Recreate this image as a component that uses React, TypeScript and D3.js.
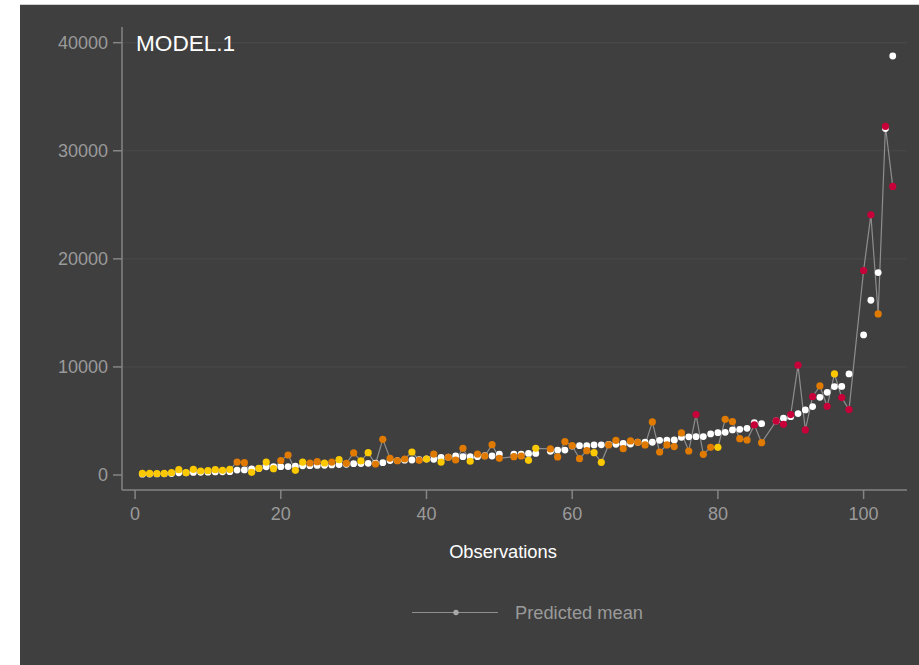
import React, { useEffect, useRef } from "react";
import * as d3 from "d3";

// observation number 1..104 (51, 56, 87, 99 have no data)
const observationIds = d3.range(1, 105);

const predictedMean = [
  80, 90, 100, 110, 130, 210, 200, 240, 250, 260,
  280, 290, 310, 460, 470, 560, 600, 760, 770, 770,
  780, 830, 850, 860, 890, 900, 930, 960, 990, 1050,
  1060, 1080, 1100, 1140, 1340, 1330, 1370, 1390, 1420, 1480,
  1450, 1640, 1650, 1760, 1700, 1700, 1700, 1780, 1760, 1940,
  null, 1940, 1940, 2000, 2000, null, 2190, 2310, 2310, 2680,
  2710, 2710, 2780, 2790, 2820, 2840, 2930, 2870, 3030, 3030,
  3030, 3210, 3230, 3240, 3490, 3530, 3550, 3560, 3800, 3920,
  3950, 4170, 4230, 4320, 4840, 4750, null, 5000, 5250, 5400,
  5680, 6020, 6330, 7190, 7650, 8180, 8200, 9350, null, 12960,
  16170, 18730, 32060, 38770,
];

const observedValue = [
  150, 150, 140, 150, 215, 490, 215, 525, 370, 400,
  490, 430, 525, 1200, 1140, 250, 620, 1200, 585, 1340,
  1850, 430, 1200, 1110, 1230, 1110, 1200, 1420, 1080, 2040,
  1300, 2070, 1020, 3300, 1540, 1320, 1480, 2130, 1360, 1480,
  1940, 1200, 1640, 1390, 2470, 1270, 1940, 1760, 2810, 1540,
  null, 1700, 1760, 1360, 2470, null, 2410, 1670, 3080, 2710,
  1510, 2250, 2070, 1170, 2780, 3210, 2440, 3150, 3030, 2780,
  4910, 2130, 2780, 2630, 3890, 2220, 5590, 1910, 2560, 2560,
  5150, 4940, 3360, 3240, 4630, 2990, null, 5000, 4690, 5590,
  10160, 4170, 7250, 8240, 6360, 9350, 7160, 6050, null, 18920,
  24070, 14900, 32250, 26700,
];

// Y = low, O = mid, R = high band of each observation
const observedBand = [
  "Y", "Y", "Y", "Y", "Y", "Y", "Y", "Y", "Y", "Y",
  "Y", "Y", "Y", "O", "O", "Y", "Y", "Y", "Y", "O",
  "O", "Y", "Y", "O", "O", "Y", "O", "Y", "O", "O",
  "Y", "Y", "O", "O", "O", "O", "O", "Y", "O", "Y",
  "O", "Y", "O", "O", "O", "Y", "O", "O", "O", "O",
  null, "O", "O", "Y", "Y", null, "O", "O", "O", "O",
  "O", "O", "Y", "Y", "O", "O", "O", "O", "O", "O",
  "O", "O", "O", "O", "O", "O", "R", "O", "O", "Y",
  "O", "O", "O", "O", "R", "O", null, "R", "R", "R",
  "R", "R", "R", "O", "R", "Y", "R", "R", null, "R",
  "R", "O", "R", "R",
];

const yTicks = [0, 10000, 20000, 30000, 40000];
const xTicks = [0, 20, 40, 60, 80, 100];
const bandColors = { Y: "#fcc800", O: "#e07a00", R: "#c8003a" };

const W = 919;
const H = 665;
const FONT = "'Liberation Sans', Arial, sans-serif";

const App = () => {
  const svgRef = useRef(null);

  useEffect(() => {
    const svg = d3.select(svgRef.current);
    svg.selectAll("*").remove();

    const x = d3.scaleLinear().domain([0, 100]).range([135.1, 863.6]);
    const y = d3.scaleLinear().domain([0, 40000]).range([475, 42.7]);

    const left = 122;
    const right = 907;
    const top = 27;
    const bottom = 490;

    svg.append("rect").attr("width", W).attr("height", H).attr("fill", "#fff");
    svg
      .append("rect")
      .attr("x", 20)
      .attr("y", 5)
      .attr("width", W - 20)
      .attr("height", H - 5)
      .attr("fill", "#3f3f3f");
    svg
      .append("line")
      .attr("x1", 20)
      .attr("x2", W)
      .attr("y1", 4.5)
      .attr("y2", 4.5)
      .attr("stroke", "#d0d0d0");

    // grid
    svg
      .append("g")
      .selectAll("line")
      .data(yTicks.filter((d) => d > 0))
      .enter()
      .append("line")
      .attr("x1", left)
      .attr("x2", right)
      .attr("y1", (d) => y(d))
      .attr("y2", (d) => y(d))
      .attr("stroke", "#4a4a4a")
      .attr("stroke-width", 1);

    // y axis
    const axisColor = "#858585";
    const tickColor = "#9a9a9a";
    svg
      .append("line")
      .attr("x1", left)
      .attr("x2", left)
      .attr("y1", top)
      .attr("y2", bottom)
      .attr("stroke", axisColor)
      .attr("stroke-width", 1.5);
    const yt = svg.append("g").selectAll("g").data(yTicks).enter().append("g");
    yt.append("line")
      .attr("x1", left - 9)
      .attr("x2", left)
      .attr("y1", (d) => y(d))
      .attr("y2", (d) => y(d))
      .attr("stroke", axisColor)
      .attr("stroke-width", 1.5);
    yt.append("text")
      .attr("x", left - 14)
      .attr("y", (d) => y(d))
      .attr("dy", "0.35em")
      .attr("text-anchor", "end")
      .attr("fill", tickColor)
      .style("font-family", FONT)
      .style("font-size", "18px")
      .text((d) => d);

    // x axis
    svg
      .append("line")
      .attr("x1", left)
      .attr("x2", right)
      .attr("y1", bottom)
      .attr("y2", bottom)
      .attr("stroke", axisColor)
      .attr("stroke-width", 1.5);
    const xt = svg.append("g").selectAll("g").data(xTicks).enter().append("g");
    xt.append("line")
      .attr("x1", (d) => x(d))
      .attr("x2", (d) => x(d))
      .attr("y1", bottom)
      .attr("y2", bottom + 9)
      .attr("stroke", axisColor)
      .attr("stroke-width", 1.5);
    xt.append("text")
      .attr("x", (d) => x(d))
      .attr("y", 514)
      .attr("dy", "0.35em")
      .attr("text-anchor", "middle")
      .attr("fill", tickColor)
      .style("font-family", FONT)
      .style("font-size", "18px")
      .text((d) => d);

    const rows = observationIds.map((id, i) => ({
      id,
      pred: predictedMean[i],
      obs: observedValue[i],
      band: observedBand[i],
    }));
    const obsRows = rows.filter((r) => r.obs != null);

    const line = d3
      .line()
      .x((d) => x(d.id))
      .y((d) => y(d.obs));

    svg
      .append("path")
      .datum(obsRows)
      .attr("d", line)
      .attr("fill", "none")
      .attr("stroke", "#8e8e8e")
      .attr("stroke-width", 1.2);

    svg
      .append("g")
      .selectAll("circle")
      .data(rows.filter((r) => r.pred != null))
      .enter()
      .append("circle")
      .attr("cx", (d) => x(d.id))
      .attr("cy", (d) => y(d.pred))
      .attr("r", 3.4)
      .attr("fill", "#ffffff");

    svg
      .append("g")
      .selectAll("circle")
      .data(obsRows)
      .enter()
      .append("circle")
      .attr("cx", (d) => x(d.id))
      .attr("cy", (d) => y(d.obs))
      .attr("r", 3.6)
      .attr("fill", (d) => bandColors[d.band]);

    // titles
    svg
      .append("text")
      .attr("x", 136)
      .attr("y", 50.5)
      .attr("fill", "#ffffff")
      .style("font-family", FONT)
      .style("font-size", "22.6px")
      .text("MODEL.1");

    svg
      .append("text")
      .attr("x", 503)
      .attr("y", 558)
      .attr("text-anchor", "middle")
      .attr("fill", "#ffffff")
      .style("font-family", FONT)
      .style("font-size", "18.3px")
      .text("Observations");

    // legend
    svg
      .append("line")
      .attr("x1", 412)
      .attr("x2", 498)
      .attr("y1", 612.5)
      .attr("y2", 612.5)
      .attr("stroke", "#8e8e8e")
      .attr("stroke-width", 1.2);
    svg
      .append("circle")
      .attr("cx", 456)
      .attr("cy", 612.5)
      .attr("r", 2.7)
      .attr("fill", "#a8a8a8");
    svg
      .append("text")
      .attr("x", 515)
      .attr("y", 619)
      .attr("fill", "#9a9a9a")
      .style("font-family", FONT)
      .style("font-size", "18.3px")
      .text("Predicted mean");
  }, []);

  return (
    <svg
      ref={svgRef}
      width={W}
      height={H}
      style={{ position: "absolute", left: 0, top: 0, display: "block" }}
    />
  );
};

export default App;
